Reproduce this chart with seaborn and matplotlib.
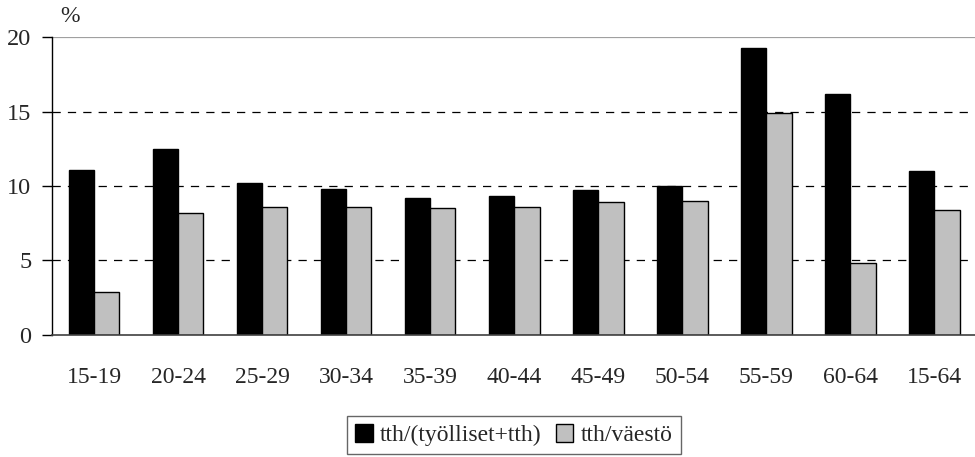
import matplotlib
matplotlib.use("Agg")
import matplotlib.pyplot as plt
import pandas as pd
import seaborn as sns

# age groups and the two rates (%)
age_groups = ["15-19", "20-24", "25-29", "30-34", "35-39", "40-44",
              "45-49", "50-54", "55-59", "60-64", "15-64"]
share_of_labour = [11.1, 12.5, 10.2, 9.8, 9.2, 9.35, 9.7, 10.0, 19.3, 16.2, 11.0]
share_of_population = [2.9, 8.2, 8.6, 8.6, 8.5, 8.6, 8.9, 9.0, 14.9, 4.8, 8.4]
series_names = ["tth/(työlliset+tth)", "tth/väestö"]
y_ticks = [0, 5, 10, 15, 20]

df = pd.DataFrame({
    "age": age_groups * 2,
    "value": share_of_labour + share_of_population,
    "series": [series_names[0]] * len(age_groups) + [series_names[1]] * len(age_groups),
})

sns.set_theme(style="white")
plt.rcParams["font.family"] = ["Liberation Serif", "DejaVu Serif"]
plt.rcParams["font.size"] = 17

fig = plt.figure(figsize=(9.75, 4.57), dpi=100)
ax = fig.add_axes([0.0535, 0.2676, 0.948, 0.6508])

# grid lines go behind the bars
for v in y_ticks[1:-1]:
    ax.axhline(v, color="black", lw=0.9, ls=(0, (6.6, 5.7)), zorder=0)
ax.axhline(y_ticks[-1], color="#a0a0a0", lw=1.6, zorder=0)

sns.barplot(data=df, x="age", y="value", hue="series", order=age_groups,
            palette=["black", "#c0c0c0"], edgecolor="black", linewidth=1,
            width=0.6, ax=ax, zorder=2)

ax.set_xlim(-0.5, len(age_groups) - 0.5)
ax.set_ylim(0, 20)
ax.set_yticks(y_ticks)
ax.set_xlabel("")
ax.set_ylabel("")

for side in ["top", "right"]:
    ax.spines[side].set_visible(False)
ax.spines["left"].set_color("black")
ax.spines["bottom"].set_color("#404040")
ax.spines["left"].set_linewidth(1)
ax.spines["bottom"].set_linewidth(1.2)

# tick marks between categories, labels centred
ax.set_xticks([i - 0.5 for i in range(len(age_groups) + 1)], minor=True)
ax.tick_params(axis="x", which="minor", length=7, width=1, color="black", direction="out")
ax.tick_params(axis="x", which="major", length=0, pad=23, labelsize=17)
ax.tick_params(axis="y", length=7, width=1, color="black", direction="out",
               left=True, pad=8, labelsize=17.5)

fig.text(0.062, 0.963, "%", fontsize=17, ha="left", va="center")

leg = ax.legend(loc="upper center", bbox_to_anchor=(0.527, 0.0897),
                bbox_transform=fig.transFigure, ncol=2, frameon=True,
                fancybox=False, edgecolor="#404040", handlelength=0.75,
                handleheight=0.75, handletextpad=0.3, columnspacing=0.6,
                borderpad=0.35, borderaxespad=0, fontsize=17)
leg.get_frame().set_linewidth(1)

fig.savefig("out.png", dpi=100)
